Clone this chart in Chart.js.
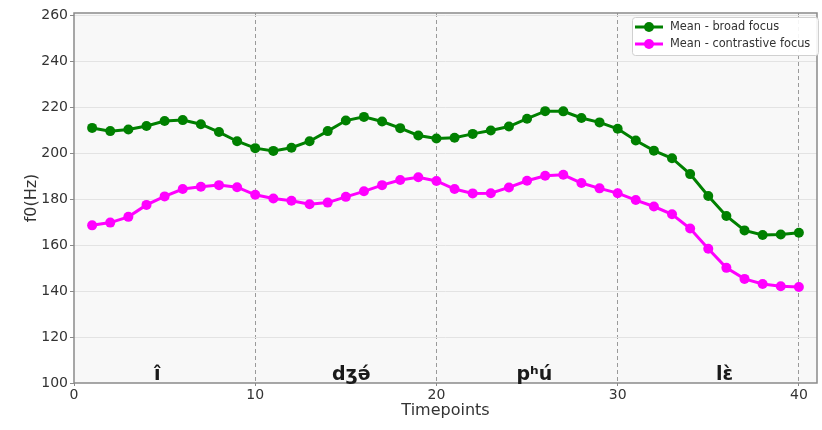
<!DOCTYPE html>
<html>
<head>
<meta charset="utf-8">
<script src="https://cdn.jsdelivr.net/npm/chart.js@4.4.1/dist/chart.umd.min.js"></script>
<style>
	html, body { margin: 0; padding: 0; background: #ffffff; }
	#wrap { width: 822px; height: 430px; }
</style>
</head>
<body>
<div id="wrap"><canvas id="f0Chart" width="822" height="430"></canvas></div>
<script>
// timepoints 1..40
var timepoints = [];
for (let i = 1; i <= 40; i++) timepoints.push(i);

var broadFocus = [
	211.0, 209.6, 210.3, 211.8, 214.0, 214.4, 212.6, 209.2, 205.2, 202.2,
	201.0, 202.4, 205.2, 209.6, 214.2, 215.8, 213.8, 210.9, 207.7, 206.4,
	206.7, 208.4, 209.9, 211.6, 215.0, 218.3, 218.2, 215.3, 213.4, 210.6,
	205.5, 201.1, 197.8, 190.9, 181.4, 172.7, 166.4, 164.4, 164.6, 165.4
];
var contrastiveFocus = [
	168.6, 169.8, 172.3, 177.5, 181.2, 184.4, 185.4, 186.1, 185.2, 181.9,
	180.3, 179.3, 177.8, 178.5, 181.0, 183.4, 186.1, 188.3, 189.5, 187.9,
	184.4, 182.5, 182.6, 185.1, 188.0, 190.2, 190.6, 187.0, 184.7, 182.6,
	179.6, 176.8, 173.4, 167.2, 158.4, 150.1, 145.3, 143.1, 142.1, 141.8
];

// syllables written along the bottom of the plot
var syllables = ["î", "dʒə́", "pʰú", "lɛ̀"];
var syllableX = [4.6, 15.3, 25.4, 35.9];

var xTicks = [0, 10, 20, 30, 40];
var yTicks = [100, 120, 140, 160, 180, 200, 220, 240, 260];

const FONT = "'DejaVu Sans', sans-serif";

const plotBackground = {
	id: 'plotBackground',
	beforeDraw(chart) {
		const {ctx, chartArea: a} = chart;
		ctx.save();
		ctx.fillStyle = '#f8f8f8';
		ctx.fillRect(a.left, a.top, a.right - a.left, a.bottom - a.top);
		ctx.restore();
	}
};

const frameAndText = {
	id: 'frameAndText',
	afterDraw(chart) {
		const {ctx, chartArea: a, scales} = chart;
		ctx.save();
		// box around the plot
		ctx.strokeStyle = '#8a8a8a';
		ctx.lineWidth = 1.5;
		ctx.strokeRect(a.left, a.top, a.right - a.left, a.bottom - a.top);

		// syllable labels
		ctx.fillStyle = '#1a1a1a';
		ctx.font = 'bold 19px ' + FONT;
		ctx.textAlign = 'center';
		ctx.textBaseline = 'alphabetic';
		const yBase = scales.y.getPixelForValue(100) - 3;
		syllables.forEach((s, i) => {
			ctx.fillText(s, scales.x.getPixelForValue(syllableX[i]), yBase);
		});

		// legend box
		const bx = 632, by = 17, bw = 186, bh = 38;
		ctx.fillStyle = 'rgba(255,255,255,0.9)';
		ctx.strokeStyle = '#d0d0d0';
		ctx.lineWidth = 1;
		ctx.beginPath();
		ctx.roundRect(bx + 0.5, by + 0.5, bw, bh, 3);
		ctx.fill();
		ctx.stroke();

		ctx.font = '11.4px ' + FONT;
		ctx.textAlign = 'left';
		ctx.textBaseline = 'middle';
		chart.data.datasets.forEach((ds, i) => {
			const y = by + 10 + i * 17;
			ctx.strokeStyle = ds.borderColor;
			ctx.lineWidth = 3;
			ctx.beginPath();
			ctx.moveTo(bx + 3, y);
			ctx.lineTo(bx + 31, y);
			ctx.stroke();
			ctx.fillStyle = ds.backgroundColor;
			ctx.beginPath();
			ctx.arc(bx + 17, y, 5, 0, Math.PI * 2);
			ctx.fill();
			ctx.fillStyle = '#333333';
			ctx.fillText(ds.label, bx + 38, y + 0.5);
		});
		ctx.restore();
	}
};

const ctxF0 = document.getElementById('f0Chart').getContext('2d');
const f0Chart = new Chart(ctxF0, {
	type: 'line',
	data: {
		datasets: [{
			label: 'Mean - broad focus',
			data: timepoints.map((t, i) => ({x: t, y: broadFocus[i]})),
			borderColor: '#008000',
			backgroundColor: '#008000',
			borderWidth: 3,
			pointRadius: 5,
			pointBorderWidth: 0,
			tension: 0
		}, {
			label: 'Mean - contrastive focus',
			data: timepoints.map((t, i) => ({x: t, y: contrastiveFocus[i]})),
			borderColor: '#ff00ff',
			backgroundColor: '#ff00ff',
			borderWidth: 3,
			pointRadius: 5,
			pointBorderWidth: 0,
			tension: 0
		}]
	},
	options: {
		responsive: false,
		animation: false,
		layout: { padding: { top: 13, right: 0, bottom: 0, left: 0 } },
		plugins: {
			legend: { display: false },
			tooltip: { enabled: false }
		},
		scales: {
			x: {
				type: 'linear',
				min: 0,
				max: 41,
				afterFit: (scale) => { scale.height = 47; },
				afterBuildTicks: (scale) => { scale.ticks = xTicks.map(v => ({value: v})); },
				ticks: {
					font: { family: FONT, size: 14 },
					color: '#333333',
					padding: 1,
					maxRotation: 0
				},
				grid: {
					color: (c) => c.tick && c.tick.value === 0 ? 'rgba(0,0,0,0)' : '#9a9a9a',
					lineWidth: 1,
					tickLength: 3,
					tickColor: '#8a8a8a',
					tickBorderDash: []
				},
				// in v4 the grid line dash lives on the border options
				border: { display: false, dash: [4, 3] },
				title: {
					display: true,
					text: 'Timepoints',
					font: { family: FONT, size: 16 },
					color: '#333333',
					padding: { top: 0, bottom: 10 }
				}
			},
			y: {
				min: 100,
				max: 261,
				afterFit: (scale) => { scale.width = 74; },
				afterBuildTicks: (scale) => { scale.ticks = yTicks.map(v => ({value: v})); },
				ticks: {
					font: { family: FONT, size: 14 },
					color: '#333333',
					padding: 2
				},
				grid: {
					color: (c) => c.tick && c.tick.value === 100 ? 'rgba(0,0,0,0)' : '#e3e3e3',
					lineWidth: 1,
					tickLength: 4,
					tickColor: '#8a8a8a'
				},
				border: { display: false },
				title: {
					display: true,
					text: 'f0(Hz)',
					font: { family: FONT, size: 16 },
					color: '#333333',
					padding: { top: 22, bottom: 0 }
				}
			}
		}
	},
	plugins: [plotBackground, frameAndText]
});
</script>
</body>
</html>
